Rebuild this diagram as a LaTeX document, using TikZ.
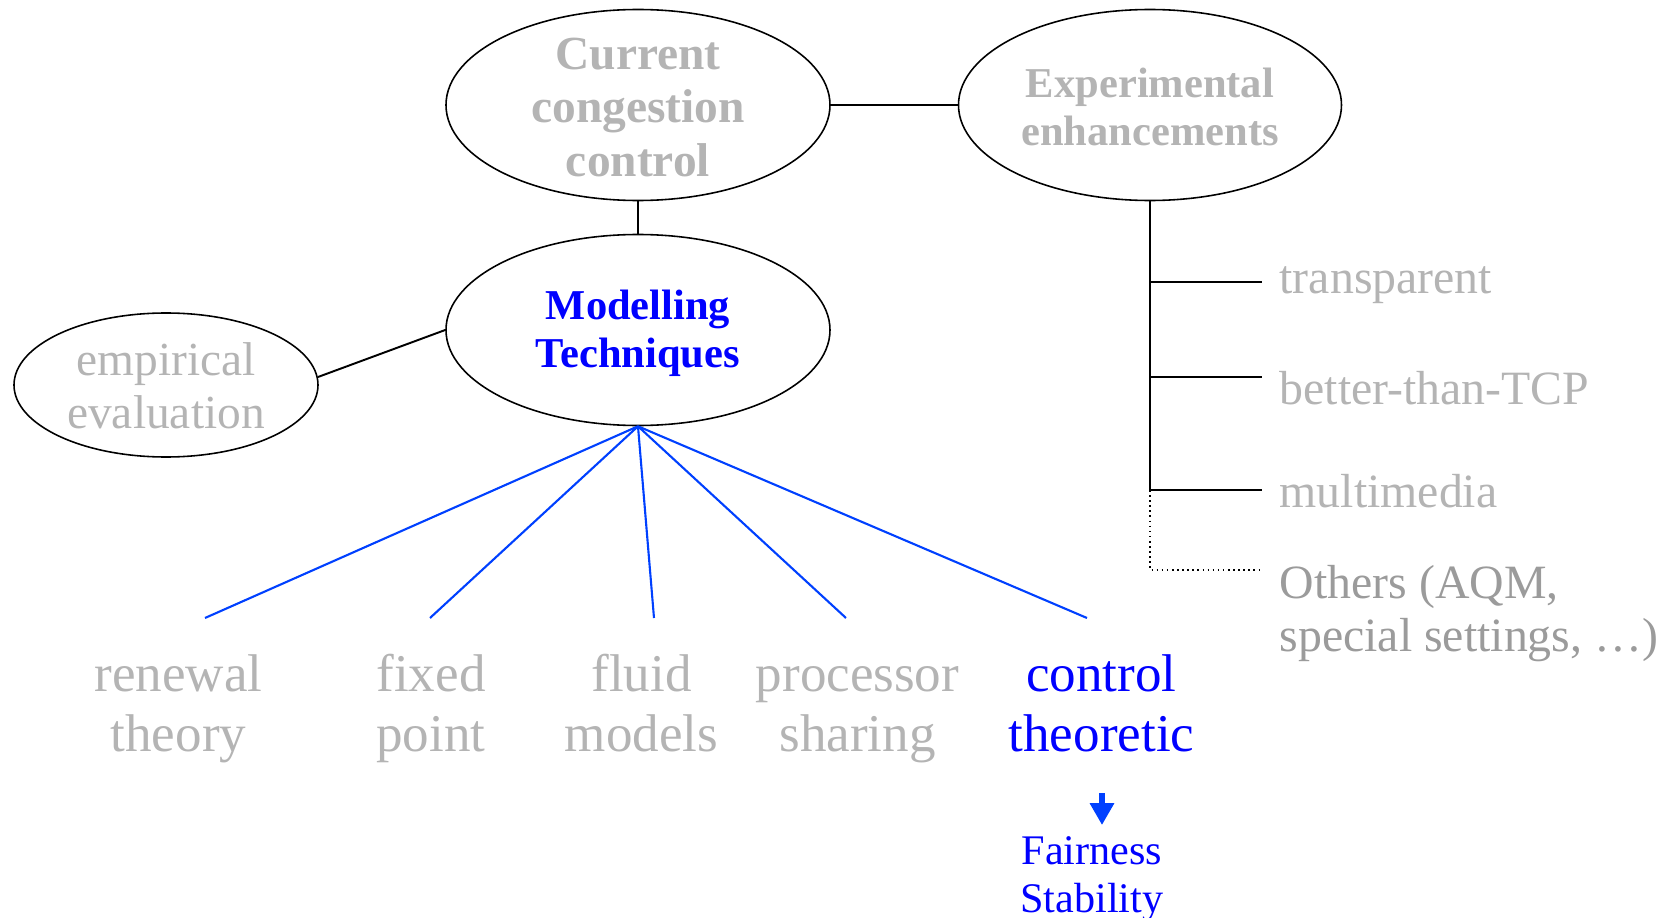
\documentclass[tikz,border=0pt]{standalone}
\usepackage{fontspec}
\setmainfont{Liberation Serif}
\usepackage{xcolor}
\usetikzlibrary{shapes.geometric}
\usetikzlibrary{arrows.meta}
\definecolor{lightgrey}{RGB}{180,180,180}
\definecolor{midgrey}{RGB}{155,155,155}
\definecolor{treeblue}{RGB}{0,0,255}
\definecolor{spokeblue}{RGB}{0,64,255}
\tikzset{oval/.style={draw=black, ellipse, line width=0.45pt, inner sep=0pt}}
\tikzset{bigtitle/.style={align=center, lightgrey, font=\bfseries\fontsize{13.5}{15.2}\selectfont}}
\tikzset{title/.style={align=center, font=\bfseries\fontsize{12.1}{13.7}\selectfont}}
\tikzset{leaftext/.style={align=center, anchor=base, inner sep=0pt, font=\fontsize{15.1}{17.1}\selectfont}}
\tikzset{sidetext/.style={align=left, anchor=base west, inner sep=0pt, lightgrey, font=\fontsize{13.6}{15.2}\selectfont}}

\begin{document}
\begin{tikzpicture} [scale=1]
\useasboundingbox (0,0) rectangle (16.67,9.17);
\node[oval, minimum width=3.84cm, minimum height=1.91cm] (cur) at (6.38,8.12) {};
\node[oval, minimum width=3.83cm, minimum height=1.91cm] (exp) at (11.50,8.12) {};
\node[oval, minimum width=3.84cm, minimum height=1.91cm] (mod) at (6.38,5.87) {};
\node[oval, minimum width=3.04cm, minimum height=1.44cm] (emp) at (1.66,5.32) {};
\node[bigtitle, yshift=-0.6pt] (curtext) at (cur) {Current\\congestion\\control};
\node[title, lightgrey, yshift=-0.6pt] (exptext) at (exp) {Experimental\\enhancements};
\node[title, treeblue, yshift=-0.9pt] (modtext) at (mod) {Modelling\\Techniques};
\node[align=center, lightgrey, font=\fontsize{13.5}{15.1}\selectfont, yshift=-0.3pt] (emptext) at (emp) {empirical\\evaluation};
\draw[line width=0.55pt] (cur.east) -- (exp.west);
\draw[line width=0.55pt] (cur.south) -- (mod.north);
\draw[line width=0.55pt] (emp.3) -- (mod.west);
% spokes to the modelling approaches
\foreach \px [count=\i] in {2.05,4.30,6.54,8.46,10.87}
  \coordinate (leaf\i) at (\px,2.99);
\foreach \i in {1,...,5}
  \draw[spokeblue, line width=0.6pt] (mod.south) -- (leaf\i);
\node[leaftext, lightgrey] (renew) at (1.785,1.655) {renewal\\theory};
\node[leaftext, lightgrey] (fixed) at (4.31,1.655) {fixed\\point};
\node[leaftext, lightgrey] (fluid) at (6.416,1.655) {fluid\\models};
\node[leaftext, lightgrey] (proc) at (8.575,1.655) {processor\\sharing};
\node[leaftext, treeblue] (ctrl) at (11.015,1.655) {control\\theoretic};
\coordinate (arrtop) at (11.02,1.24);
\coordinate (arrtip) at (11.02,0.92);
\draw[spokeblue, line width=1.5pt, -{Triangle[length=6.2pt,width=6.6pt]}] (arrtop) -- (arrtip);
\node[align=center, anchor=base, inner sep=0pt, treeblue, font=\fontsize{12}{13.4}\selectfont] (fair) at (10.92,0.05) {Fairness\\Stability};
% enhancement branches
\coordinate (br1) at (12.62,6.35);
\coordinate (br2) at (12.62,5.40);
\coordinate (br3) at (12.62,4.27);
\coordinate (br4) at (12.62,3.47);
\draw[line width=0.55pt] (exp.south) |- (br1);
\draw[line width=0.55pt] (exp.south) |- (br2);
\draw[line width=0.55pt] (exp.south) |- (br3);
\draw[line width=0.45pt, densely dotted] (exp.south |- br3) |- (br4);
\node[sidetext] (transp) at (12.79,6.24) {transparent};
\node[sidetext] (better) at (12.79,5.13) {better-than-TCP};
\node[sidetext] (multi) at (12.79,4.10) {multimedia};
\node[sidetext, midgrey] (others) at (12.79,2.655) {Others (AQM,\\special settings, …)};
\end{tikzpicture}
\end{document}
